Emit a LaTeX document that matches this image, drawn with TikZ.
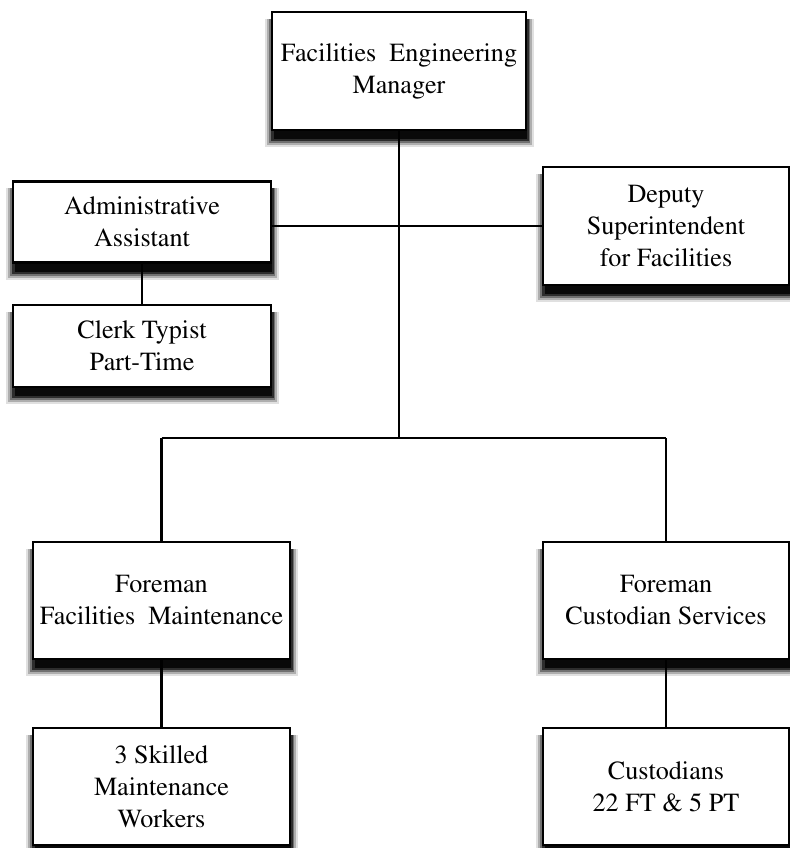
\documentclass[tikz,border=0pt]{standalone}
\usepackage[T1]{fontenc}
\usepackage{times}
\usetikzlibrary{calc,backgrounds}
\newcommand\orgshadow[1]{%
  \fill[black,opacity=0.12] ($(#1.north west)+(-6,8)$) rectangle ($(#1.south east)+(7,16)$);
  \fill[black,opacity=0.22] ($(#1.north west)+(-4,8)$) rectangle ($(#1.south east)+(5,13.5)$);
  \fill[black,opacity=0.35] ($(#1.north west)+(-2,8)$) rectangle ($(#1.south east)+(3,11.5)$);
  \fill[black,opacity=0.6] ($(#1.north west)+(0,8)$) rectangle ($(#1.south east)+(1.5,9.5)$);
  \fill[black,opacity=0.8] ($(#1.north west)+(3,8)$) rectangle ($(#1.south east)+(0,7.5)$);
}
\begin{document}
\begin{tikzpicture}[x=0.75pt,y=-0.75pt,
  orgbox/.style={draw=black, line width=2.2pt, fill=white, align=center,
    inner sep=0pt, font=\fontsize{19.6}{24}\selectfont},
  link/.style={draw=black, line width=1.6pt}]
\useasboundingbox (0,0) rectangle (789,848);

\coordinate (hub) at (399,438);
\coordinate (lft) at (161.5,438);
\coordinate (rgt) at (666,438);

\node[orgbox, minimum width=190.5pt, minimum height=88.5pt] (fem) at (399,71) {Facilities\ \ Engineering\\Manager};
\node[orgbox, minimum width=193.5pt, minimum height=61pt] (adm) at (142,222) {Administrative\\Assistant};
\node[orgbox, minimum width=193.5pt, minimum height=61.5pt] (clk) at (142,346) {Clerk Typist\\Part-Time};
\node[orgbox, minimum width=184.5pt, minimum height=88.5pt] (dep) at (666,226) {Deputy\\Superintendent\\for Facilities};
\node[orgbox, minimum width=192.75pt, minimum height=87.75pt] (ffm) at (161.5,600.5) {Foreman\\Facilities\ \ Maintenance};
\node[orgbox, minimum width=184.5pt, minimum height=87.75pt] (fcs) at (666,600.5) {Foreman\\Custodian Services};
\node[orgbox, minimum width=192.75pt, minimum height=87.75pt] (skl) at (161.5,786.5) {3 Skilled\\Maintenance\\Workers};
\node[orgbox, minimum width=184.5pt, minimum height=87.75pt] (cus) at (666,786.5) {Custodians\\22 FT \& 5 PT};

\begin{scope}[on background layer]
  \fill[white] (0,0) rectangle (789,848);
  \path[link] (fem.south) -- (hub);
  \path[link] (adm.east |- dep.west) -- (dep.west);
  \path[link] (adm.south) -- (clk.north);
  \path[link] (lft) -- (rgt);
  \path[link] (lft) -- (ffm.north);
  \path[link] (rgt) -- (fcs.north);
  \path[link] (ffm.south) -- (skl.north);
  \path[link] (fcs.south) -- (cus.north);
  \foreach \n in {fem,adm,clk,dep,ffm,fcs,skl,cus} {\orgshadow{\n}}
\end{scope}
\end{tikzpicture}
\end{document}
